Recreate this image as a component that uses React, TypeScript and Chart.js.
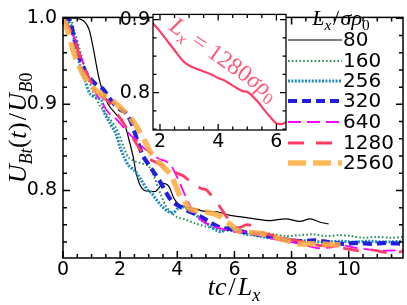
import React, { useEffect, useRef } from "react";
import { Chart, registerables } from "chart.js";
Chart.register(...registerables);

// ---------- data ----------
const t80 = [0, 0.4, 0.6, 0.75, 0.9, 1.0, 1.1, 1.2, 1.3, 1.45, 1.6, 1.9, 2.15, 2.3, 2.45, 2.55, 2.7, 2.85, 3.05, 3.25, 3.5, 3.7, 3.88, 4.05, 4.25, 4.6, 4.9, 5.4, 5.85, 6.3, 6.7, 7.25, 7.8, 8.3, 8.65, 9.0, 9.3];
const u80 = [1.0, 1.0, 0.999, 0.996, 0.988, 0.975, 0.958, 0.94, 0.925, 0.91, 0.899, 0.887, 0.877, 0.86, 0.84, 0.822, 0.806, 0.8, 0.799, 0.799, 0.808, 0.805, 0.791, 0.784, 0.781, 0.779, 0.776, 0.775, 0.771, 0.769, 0.767, 0.765, 0.767, 0.764, 0.767, 0.763, 0.761];

const t160 = [0, 0.25, 0.4, 0.6, 0.8, 1.05, 1.3, 1.6, 1.85, 2.0, 2.15, 2.3, 2.5, 2.7, 3.0, 3.2, 3.4, 3.6, 3.8, 4.0, 4.3, 4.6, 5.0, 5.4, 5.8, 6.2, 6.6, 7.0, 7.4, 7.8, 8.3, 8.75, 9.2, 9.7, 10.1, 10.5, 11.0, 11.5, 11.9];
const u160 = [1.0, 1.0, 0.985, 0.962, 0.938, 0.915, 0.898, 0.885, 0.873, 0.862, 0.848, 0.838, 0.834, 0.832, 0.828, 0.815, 0.797, 0.782, 0.774, 0.769, 0.766, 0.762, 0.758, 0.755, 0.753, 0.752, 0.751, 0.751, 0.749, 0.747, 0.748, 0.749, 0.747, 0.748, 0.747, 0.745, 0.746, 0.745, 0.746];

const t256 = [0, 0.15, 0.3, 0.45, 0.6, 0.75, 0.95, 1.15, 1.35, 1.45, 1.65, 1.85, 2.0, 2.15, 2.3, 2.5, 2.7, 2.95, 3.1, 3.25, 3.45, 3.65, 3.85, 4.05, 4.2, 4.45, 4.65, 4.85, 5.1, 5.35, 5.55, 5.75, 6.0, 6.3, 6.7, 7.2, 7.7, 8.2, 8.7, 9.2, 9.7, 10.2, 10.7, 11.2, 11.9];
const u256 = [1.0, 0.998, 0.99, 0.965, 0.945, 0.93, 0.912, 0.908, 0.905, 0.89, 0.878, 0.866, 0.85, 0.838, 0.829, 0.823, 0.814, 0.801, 0.797, 0.79, 0.782, 0.776, 0.774, 0.78, 0.781, 0.777, 0.772, 0.765, 0.76, 0.754, 0.752, 0.757, 0.755, 0.75, 0.748, 0.745, 0.744, 0.742, 0.741, 0.74, 0.741, 0.74, 0.741, 0.74, 0.741];

const t320 = [0, 0.2, 0.4, 0.6, 0.8, 1.0, 1.2, 1.4, 1.6, 1.8, 2.0, 2.2, 2.4, 2.6, 2.8, 3.0, 3.2, 3.4, 3.6, 3.8, 4.1, 4.45, 4.8, 5.15, 5.5, 5.9, 6.3, 6.8, 7.3, 7.8, 8.3, 8.8, 9.3, 9.8, 10.3, 10.8, 11.3, 11.9];
const u320 = [1.0, 1.0, 0.975, 0.953, 0.937, 0.928, 0.922, 0.918, 0.908, 0.9, 0.894, 0.89, 0.878, 0.858, 0.84, 0.83, 0.82, 0.81, 0.798, 0.788, 0.781, 0.775, 0.77, 0.763, 0.757, 0.755, 0.752, 0.749, 0.746, 0.743, 0.741, 0.742, 0.74, 0.738, 0.739, 0.738, 0.739, 0.738];

const t640 = [0, 0.2, 0.4, 0.6, 0.8, 1.0, 1.2, 1.4, 1.6, 1.8, 2.0, 2.2, 2.4, 2.6, 2.8, 3.0, 3.2, 3.4, 3.6, 3.8, 4.0, 4.2, 4.45, 4.7, 5.0, 5.3, 5.6, 6.0, 6.4, 6.8, 7.2, 7.6, 8.0, 8.4, 8.9, 9.4, 9.8, 10.3, 10.8, 11.3, 11.9];
const u640 = [1.0, 0.99, 0.977, 0.958, 0.94, 0.925, 0.91, 0.9, 0.89, 0.885, 0.878, 0.87, 0.863, 0.858, 0.85, 0.845, 0.84, 0.836, 0.834, 0.828, 0.815, 0.8, 0.782, 0.77, 0.762, 0.758, 0.755, 0.752, 0.752, 0.749, 0.745, 0.742, 0.74, 0.737, 0.733, 0.734, 0.736, 0.733, 0.731, 0.73, 0.731];

const t1280 = [0, 0.2, 0.4, 0.6, 0.8, 1.0, 1.2, 1.4, 1.6, 1.8, 2.0, 2.25, 2.5, 2.8, 3.05, 3.3, 3.5, 3.75, 4.0, 4.2, 4.4, 4.65, 4.85, 5.0, 5.15, 5.35, 5.55, 5.8, 6.0, 6.2, 6.4, 6.6, 6.9, 7.3, 7.8, 8.3, 8.8, 9.3, 9.8, 10.3, 10.8, 11.3, 11.9];
const u1280 = [1.0, 0.99, 0.975, 0.955, 0.938, 0.925, 0.915, 0.908, 0.903, 0.893, 0.884, 0.871, 0.858, 0.843, 0.836, 0.832, 0.829, 0.825, 0.82, 0.817, 0.812, 0.806, 0.802, 0.801, 0.796, 0.788, 0.778, 0.766, 0.758, 0.757, 0.76, 0.759, 0.752, 0.748, 0.744, 0.741, 0.737, 0.735, 0.733, 0.73, 0.731, 0.728, 0.729];

const t2560 = [0, 0.17, 0.38, 0.55, 0.73, 0.9, 1.08, 1.25, 1.43, 1.67, 1.95, 2.26, 2.5, 2.72, 2.9, 3.07, 3.3, 3.55, 3.76, 3.95, 4.1, 4.3, 4.46, 4.8, 5.15, 5.5, 5.8, 6.2, 6.6, 6.9, 7.3, 7.6, 7.9, 8.2, 8.6, 9.0, 9.4, 9.9];
const u2560 = [1.0, 0.985, 0.96, 0.946, 0.933, 0.925, 0.918, 0.914, 0.91, 0.906, 0.898, 0.888, 0.878, 0.866, 0.855, 0.844, 0.835, 0.826, 0.819, 0.805, 0.793, 0.785, 0.778, 0.776, 0.774, 0.77, 0.762, 0.752, 0.751, 0.75, 0.747, 0.744, 0.741, 0.738, 0.738, 0.738, 0.737, 0.737];

const seriesLabels = ["80", "160", "256", "320", "640", "1280", "2560"];
const seriesT = [t80, t160, t256, t320, t640, t1280, t2560];
const seriesU = [u80, u160, u256, u320, u640, u1280, u2560];

// ---------- styles ----------
const styles = [
  { color: "#000000", width: 1.2, dash: [] as number[] },
  { color: "#2e8b57", width: 2, dash: [1.6, 2.2] },
  { color: "#1f8ac0", width: 3, dash: [2, 1.4] },
  { color: "#1f1fdc", width: 4.2, dash: [9, 5] },
  { color: "#ff00ff", width: 1.8, dash: [13, 6] },
  { color: "#ff3b66", width: 2.8, dash: [16, 12] },
  { color: "rgba(255,172,60,0.85)", width: 5.5, dash: [18, 7] },
];

type Part = { t: string; it?: boolean; sub?: boolean; gap?: number };

function drawMath(ctx: CanvasRenderingContext2D, parts: Part[], x: number, y: number, size: number, family: string, align: "center" | "left") {
  const fontFor = (p: Part) => `${p.it ? "italic " : ""}${p.sub ? size * 0.7 : size}px ${family}`;
  let total = 0;
  const widths: number[] = [];
  for (const p of parts) {
    ctx.font = fontFor(p);
    const w = ctx.measureText(p.t).width + (p.gap || 0);
    widths.push(w);
    total += w;
  }
  let cx = align === "center" ? x - total / 2 : x;
  ctx.textBaseline = "alphabetic";
  ctx.textAlign = "left";
  parts.forEach((p, i) => {
    ctx.font = fontFor(p);
    ctx.fillText(p.t, cx + (p.gap || 0) / 2, p.sub ? y + size * 0.22 : y);
    cx += widths[i];
  });
}

const MATH_FONT = "'Liberation Serif', serif";
const TICK_FONT = "'DejaVu Sans', sans-serif";

const mainDecor = {
  id: "mainDecor",
  afterDraw(chart: any) {
    const { ctx, chartArea } = chart;
    const { left, right, top, bottom } = chartArea;
    const xs = chart.scales.x;
    const ys = chart.scales.y;
    ctx.save();
    ctx.strokeStyle = "#000";
    ctx.lineWidth = 1.5;
    ctx.setLineDash([]);
    ctx.strokeRect(left, top, right - left, bottom - top);
    ctx.beginPath();
    for (let k = 0; k * 0.5 <= xs.max + 1e-9; k++) {
      const v = k * 0.5;
      const px = xs.getPixelForValue(v);
      const len = k % 4 === 0 ? 7 : 4;
      ctx.moveTo(px, bottom); ctx.lineTo(px, bottom - len);
      ctx.moveTo(px, top); ctx.lineTo(px, top + len);
    }
    for (let k = 36; k <= 50; k++) {
      const v = k * 0.02;
      if (v < ys.min) continue;
      const py = ys.getPixelForValue(v);
      const len = k % 5 === 0 ? 7 : 4;
      ctx.moveTo(left, py); ctx.lineTo(left + len, py);
      ctx.moveTo(right, py); ctx.lineTo(right - len, py);
    }
    ctx.stroke();

    ctx.fillStyle = "#000";
    // x title
    drawMath(ctx, [
      { t: "t", it: true }, { t: "c", it: true }, { t: "/", gap: 4 }, { t: "L", it: true }, { t: "x", it: true, sub: true },
    ], 234, 295, 26, MATH_FONT, "center");
    // y title
    ctx.save();
    ctx.translate(26, 128);
    ctx.rotate(-Math.PI / 2);
    drawMath(ctx, [
      { t: "U", it: true }, { t: "Bt", it: true, sub: true }, { t: "(", gap: 1 }, { t: "t", it: true }, { t: ")", gap: 1 }, { t: "/", gap: 3 },
      { t: "U", it: true }, { t: "B", it: true, sub: true }, { t: "0", sub: true },
    ], 0, 0, 26, MATH_FONT, "center");
    ctx.restore();

    // legend
    drawMath(ctx, [
      { t: "L", it: true }, { t: "x", it: true, sub: true }, { t: "/", gap: 3 }, { t: "σ", it: true }, { t: "ρ", it: true }, { t: "0", sub: true },
    ], 341, 25, 22, MATH_FONT, "center");
    const rowY = [40, 61, 81, 101, 122, 143, 163];
    seriesLabels.forEach((lab, i) => {
      const st = styles[i];
      ctx.beginPath();
      ctx.strokeStyle = st.color;
      ctx.lineWidth = st.width;
      ctx.setLineDash(st.dash);
      ctx.moveTo(288, rowY[i]);
      ctx.lineTo(342, rowY[i]);
      ctx.stroke();
      ctx.setLineDash([]);
      ctx.fillStyle = "#000";
      ctx.font = `20px ${TICK_FONT}`;
      ctx.textAlign = "left";
      ctx.textBaseline = "middle";
      ctx.fillText(lab, 343, rowY[i] + 1);
    });
    ctx.restore();
  },
};

const insetDecor = {
  id: "insetDecor",
  beforeDatasetsDraw(chart: any) {
    const { ctx, chartArea } = chart;
    ctx.save();
    ctx.fillStyle = "#fff";
    ctx.fillRect(chartArea.left, chartArea.top, chartArea.right - chartArea.left, chartArea.bottom - chartArea.top);
    ctx.restore();
  },
  afterDraw(chart: any) {
    const { ctx, chartArea } = chart;
    const { left, right, top, bottom } = chartArea;
    const xs = chart.scales.x;
    const ys = chart.scales.y;
    ctx.save();
    ctx.strokeStyle = "#000";
    ctx.lineWidth = 1.3;
    ctx.setLineDash([]);
    ctx.strokeRect(left, top, right - left, bottom - top);
    ctx.beginPath();
    for (let k = 4; k * 0.5 <= xs.max + 1e-9; k++) {
      const v = k * 0.5;
      const px = xs.getPixelForValue(v);
      const len = k % 4 === 0 ? 6 : 3.5;
      ctx.moveTo(px, bottom); ctx.lineTo(px, bottom - len);
      ctx.moveTo(px, top); ctx.lineTo(px, top + len);
    }
    for (let k = 30; k <= 36; k++) {
      const v = k * 0.025;
      if (v < ys.min || v > ys.max) continue;
      const py = ys.getPixelForValue(v);
      const len = k % 4 === 0 ? 6 : 3.5;
      ctx.moveTo(left, py); ctx.lineTo(left + len, py);
      ctx.moveTo(right, py); ctx.lineTo(right - len, py);
    }
    ctx.stroke();
    // annotation
    ctx.save();
    ctx.translate(168, 29);
    ctx.rotate((35 * Math.PI) / 180);
    ctx.fillStyle = "#ff5a78";
    drawMath(ctx, [
      { t: "L", it: true }, { t: "x", it: true, sub: true }, { t: " = " }, { t: "1280" }, { t: "σ", it: true }, { t: "ρ", it: true }, { t: "0", sub: true },
    ], 0, 0, 24, MATH_FONT, "left");
    ctx.restore();
    ctx.restore();
  },
};

export default function App() {
  const mainRef = useRef<HTMLCanvasElement>(null);
  const insetRef = useRef<HTMLCanvasElement>(null);

  useEffect(() => {
    document.body.style.margin = "0";
    const datasets = seriesLabels.map((lab, i) => ({
      label: lab,
      data: seriesT[i].map((t, j) => ({ x: t, y: seriesU[i][j] })),
      borderColor: styles[i].color,
      borderWidth: styles[i].width,
      borderDash: styles[i].dash,
      pointRadius: 0,
      fill: false,
      tension: 0.3,
      order: seriesLabels.length - i,
    }));
    const tickFont = { family: TICK_FONT, size: 19 };
    const main = new Chart(mainRef.current!, {
      type: "line",
      data: { datasets },
      options: {
        responsive: false,
        animation: false,
        layout: { padding: { left: 0, right: 4, top: 5, bottom: 0 } },
        plugins: { legend: { display: false }, tooltip: { enabled: false } },
        scales: {
          x: {
            type: "linear", min: 0, max: 11.9,
            grid: { display: false, drawTicks: false }, border: { display: false },
            ticks: { stepSize: 2, includeBounds: false, font: tickFont, color: "#000", padding: 1, maxRotation: 0, autoSkip: false },
            afterFit: (s: any) => { s.height = 47; },
          },
          y: {
            type: "linear", min: 0.7215, max: 1.001,
            grid: { display: false, drawTicks: false }, border: { display: false },
            ticks: { stepSize: 0.1, includeBounds: false, font: tickFont, color: "#000", padding: 6, callback: (v: any) => Number(v).toFixed(1) },
            afterFit: (s: any) => { s.width = 63; },
          },
        },
      } as any,
      plugins: [mainDecor],
    });

    const inset = new Chart(insetRef.current!, {
      type: "line",
      data: {
        datasets: [{
          label: "1280",
          data: t1280.map((t, j) => ({ x: t, y: u1280[j] })),
          borderColor: "#ff3b66",
          borderWidth: 2.2,
          pointRadius: 0,
          fill: false,
          tension: 0.3,
        }],
      },
      options: {
        responsive: false,
        animation: false,
        layout: { padding: { left: 0, right: 121, top: 9.5, bottom: 150 } },
        plugins: { legend: { display: false }, tooltip: { enabled: false } },
        scales: {
          x: {
            type: "linear", min: 1.76, max: 6.33,
            grid: { display: false, drawTicks: false }, border: { display: false },
            ticks: { stepSize: 2, includeBounds: false, font: tickFont, color: "#000", padding: 1, maxRotation: 0, autoSkip: false },
            afterFit: (s: any) => { s.height = 25; },
          },
          y: {
            type: "linear", min: 0.7487, max: 0.9072,
            grid: { display: false, drawTicks: false }, border: { display: false },
            ticks: { stepSize: 0.1, includeBounds: false, font: tickFont, color: "#000", padding: 3, callback: (v: any) => Number(v).toFixed(1) },
            afterFit: (s: any) => { s.width = 153; },
          },
        },
      } as any,
      plugins: [insetDecor],
    });

    return () => { main.destroy(); inset.destroy(); };
  }, []);

  return (
    <div style={{ position: "relative", width: 407, height: 305 }}>
      <canvas ref={mainRef} width={407} height={305} style={{ position: "absolute", left: 0, top: 0 }} />
      <canvas ref={insetRef} width={407} height={305} style={{ position: "absolute", left: 0, top: 0 }} />
    </div>
  );
}
